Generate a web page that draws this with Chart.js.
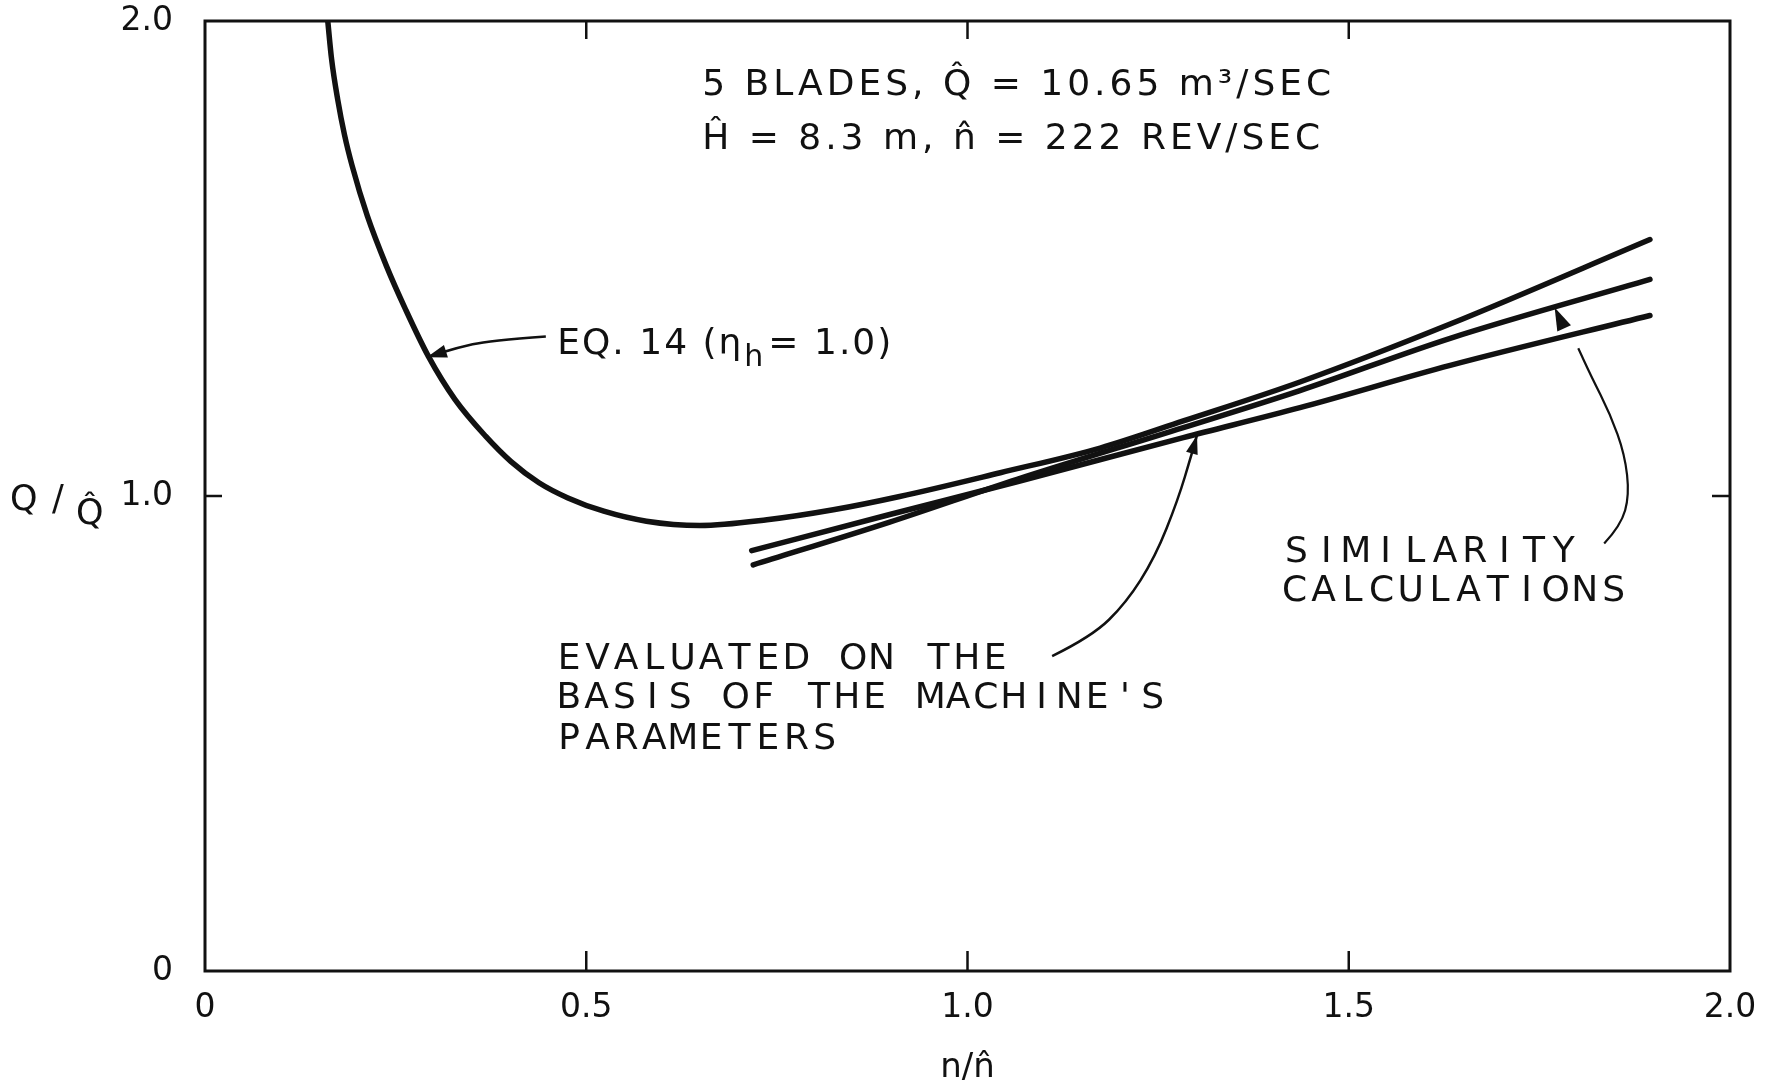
<!DOCTYPE html>
<html>
<head>
<meta charset="utf-8">
<script src="https://cdn.jsdelivr.net/npm/chart.js@4.4.1/dist/chart.umd.min.js"></script>
<style>
  html, body { margin: 0; padding: 0; background: #fff; }
</style>
</head>
<body>
<canvas id="c" width="1784" height="1086"></canvas>
<script>
// ── values: x = n/n̂, y = Q/Q̂ ──
const xTicks = [0, 0.5, 1.0, 1.5, 2.0];
const yTicks = [0, 1.0, 2.0];

// EQ. 14 (eta_h = 1.0)
const eq14X = [0.161, 0.166, 0.174, 0.183, 0.193, 0.213, 0.238, 0.263, 0.293, 0.328, 0.368, 0.401, 0.438, 0.476,
               0.523, 0.579, 0.649, 0.737, 0.824, 0.911, 1.043, 1.174, 1.283, 1.436, 1.633, 1.895];
const eq14Y = [2.000, 1.920, 1.835, 1.760, 1.695, 1.589, 1.484, 1.393, 1.294, 1.203, 1.126, 1.073, 1.028, 0.996,
               0.968, 0.947, 0.938, 0.950, 0.971, 0.999, 1.049, 1.101, 1.158, 1.240, 1.362, 1.540];

// similarity calculations (two lines)
const simUpperX = [0.719, 0.898, 1.065, 1.283, 1.436, 1.633, 1.895];
const simUpperY = [0.855, 0.945, 1.035, 1.144, 1.222, 1.332, 1.456];
const simLowerX = [0.717, 0.898, 1.065, 1.283, 1.436, 1.633, 1.895];
const simLowerY = [0.885, 0.961, 1.030, 1.123, 1.186, 1.275, 1.380];

// ── annotations (data coordinates) ──
const notes = [
  { text: 'SIMILARITY',             x: 1.412, y: 0.862, cell: 29.7 },
  { text: 'CALCULATIONS',           x: 1.410, y: 0.780, cell: 29.0 },
  { text: 'EVALUATED ON THE',       x: 0.459, y: 0.636, cell: 28.4 },
  { text: "BASIS OF THE MACHINE'S", x: 0.459, y: 0.554, cell: 27.8 },
  { text: 'PARAMETERS',             x: 0.459, y: 0.468, cell: 28.4 }
];
const titleLines = [
  { text: '5 BLADES, Q\u0302 = 10.65 m\u00B3/SEC', x: 0.652, y: 1.845 },
  { text: '\u0124 = 8.3 m, n\u0302 = 222 REV/SEC',  x: 0.652, y: 1.730 }
];
const eqArrow   = [[0.447, 1.336], [0.372, 1.327], [0.330, 1.312], [0.291, 1.292]];
const evalArrow = [[1.111, 0.663], [1.163, 0.704], [1.208, 0.775], [1.246, 0.871], [1.276, 0.992], [1.294, 1.088], [1.301, 1.128]];
const simLeader = [[1.835, 0.900], [1.857, 0.938], [1.868, 1.002], [1.862, 1.087], [1.843, 1.172], [1.817, 1.255], [1.801, 1.311]];
const simHead   = [[1.783, 1.351], [1.770, 1.397]];

const INK = '#111';
const FONT = '"DejaVu Sans", sans-serif';
const fmt = v => v === 0 ? '0' : v.toFixed(1);
const pts = (xs, ys) => xs.map((x, i) => ({ x, y: ys[i] }));

function graphemes(s) {
  const out = [];
  for (const ch of s) {
    if (/[\u0300-\u036f]/.test(ch) && out.length) out[out.length - 1] += ch;
    else out.push(ch);
  }
  return out;
}

function smoothPath(ctx, p) {
  ctx.beginPath();
  ctx.moveTo(p[0][0], p[0][1]);
  for (let i = 1; i < p.length - 1; i++) {
    const mx = (p[i][0] + p[i + 1][0]) / 2, my = (p[i][1] + p[i + 1][1]) / 2;
    ctx.quadraticCurveTo(p[i][0], p[i][1], mx, my);
  }
  ctx.lineTo(p[p.length - 1][0], p[p.length - 1][1]);
  ctx.stroke();
}

function head(ctx, from, tip, len, wid) {
  const a = Math.atan2(tip[1] - from[1], tip[0] - from[0]);
  const bx = tip[0] - len * Math.cos(a), by = tip[1] - len * Math.sin(a);
  const nx = -Math.sin(a) * wid / 2, ny = Math.cos(a) * wid / 2;
  ctx.beginPath();
  ctx.moveTo(tip[0], tip[1]);
  ctx.lineTo(bx + nx, by + ny);
  ctx.lineTo(bx - nx, by - ny);
  ctx.closePath();
  ctx.fill();
}

const frame = {
  id: 'frame',
  afterDraw(chart) {
    const { ctx, chartArea: a, scales: { x, y } } = chart;
    ctx.save();
    ctx.strokeStyle = INK;
    ctx.lineWidth = 3;
    ctx.strokeRect(a.left, a.top, a.right - a.left, a.bottom - a.top);
    ctx.lineWidth = 2.5;
    const seg = (x1, y1, x2, y2) => { ctx.beginPath(); ctx.moveTo(x1, y1); ctx.lineTo(x2, y2); ctx.stroke(); };
    xTicks.slice(1, -1).forEach(v => {
      const px = x.getPixelForValue(v);
      seg(px, a.bottom, px, a.bottom - 20);
      seg(px, a.top, px, a.top + 18);
    });
    yTicks.slice(1, -1).forEach(v => {
      const py = y.getPixelForValue(v);
      seg(a.left, py, a.left + 17, py);
      seg(a.right, py, a.right - 18, py);
    });
    // y-axis title  Q / Q̂
    const py = y.getPixelForValue(1.0);
    ctx.fillStyle = INK;
    ctx.font = `35px ${FONT}`;
    ctx.textAlign = 'left';
    ctx.textBaseline = 'alphabetic';
    ctx.fillText('Q', 10, py + 14);
    ctx.fillText('/', 52, py + 14);
    ctx.fillText('Q\u0302', 76, py + 28);
    ctx.restore();
  }
};

const annotate = {
  id: 'annotate',
  afterDatasetsDraw(chart) {
    const { ctx, scales: { x, y } } = chart;
    const P = ([u, v]) => [x.getPixelForValue(u), y.getPixelForValue(v)];
    ctx.save();
    ctx.fillStyle = INK;
    ctx.strokeStyle = INK;
    ctx.textBaseline = 'alphabetic';

    // spaced lettering
    ctx.font = `36px ${FONT}`;
    ctx.textAlign = 'center';
    notes.forEach(n => {
      const x0 = x.getPixelForValue(n.x), y0 = y.getPixelForValue(n.y);
      graphemes(n.text).forEach((g, i) => ctx.fillText(g, x0 + n.cell * (i + 0.5), y0));
    });

    // header
    ctx.textAlign = 'left';
    ctx.letterSpacing = '4px';
    titleLines.forEach(t => ctx.fillText(t.text, x.getPixelForValue(t.x), y.getPixelForValue(t.y)));

    // EQ. 14 label
    ctx.letterSpacing = '2px';
    let ex = x.getPixelForValue(0.462);
    const ey = y.getPixelForValue(1.300);
    ctx.fillText('EQ. 14 (\u03B7', ex, ey);
    ex += ctx.measureText('EQ. 14 (\u03B7').width + 1;
    ctx.font = `30px ${FONT}`;
    ctx.fillText('h', ex, ey + 12);
    ex += ctx.measureText('h').width + 3;
    ctx.font = `36px ${FONT}`;
    ctx.fillText('= 1.0)', ex, ey);
    ctx.letterSpacing = '0px';

    // leaders and arrowheads
    ctx.lineWidth = 2.5;
    const ea = eqArrow.map(P);
    smoothPath(ctx, ea);
    head(ctx, ea[ea.length - 2], ea[ea.length - 1], 20, 13);
    const va = evalArrow.map(P);
    smoothPath(ctx, va);
    head(ctx, va[va.length - 2], va[va.length - 1], 19, 12);
    ctx.lineWidth = 2.2;
    smoothPath(ctx, simLeader.map(P));
    const sh = simHead.map(P);
    head(ctx, sh[0], sh[1], 23, 15);
    ctx.restore();
  }
};

const lineStyle = {
  showLine: true, borderColor: INK, borderWidth: 5.5, pointRadius: 0,
  fill: false, cubicInterpolationMode: 'monotone', borderCapStyle: 'round'
};

new Chart(document.getElementById('c'), {
  type: 'scatter',
  data: {
    datasets: [
      { ...lineStyle, label: 'EQ. 14', data: pts(eq14X, eq14Y) },
      { ...lineStyle, label: 'Similarity (upper)', data: pts(simUpperX, simUpperY) },
      { ...lineStyle, label: 'Similarity (lower)', data: pts(simLowerX, simLowerY) }
    ]
  },
  options: {
    responsive: false,
    animation: false,
    events: [],
    layout: { padding: { top: 21, right: 54, left: 0, bottom: 0 } },
    plugins: { legend: { display: false }, tooltip: { enabled: false } },
    scales: {
      x: {
        type: 'linear', min: 0, max: 2,
        afterBuildTicks: s => { s.ticks = xTicks.map(value => ({ value })); },
        afterFit: s => { s.height = 115; s.paddingLeft = 0; s.paddingRight = 0; },
        grid: { display: false, drawTicks: false },
        border: { display: false },
        ticks: { padding: 18, color: INK, font: { family: FONT, size: 33 }, maxRotation: 0, autoSkip: false, callback: fmt },
        title: { display: true, text: 'n/n\u0302', color: INK, font: { family: FONT, size: 34 }, padding: { top: 0, bottom: -3 } }
      },
      y: {
        type: 'linear', min: 0, max: 2,
        afterBuildTicks: s => { s.ticks = yTicks.map(value => ({ value })); },
        afterFit: s => { s.width = 205; s.paddingTop = 0; s.paddingBottom = 0; },
        grid: { display: false, drawTicks: false },
        border: { display: false },
        ticks: { padding: 32, color: INK, font: { family: FONT, size: 33 }, autoSkip: false, callback: fmt }
      }
    }
  },
  plugins: [frame, annotate]
});
</script>
</body>
</html>
